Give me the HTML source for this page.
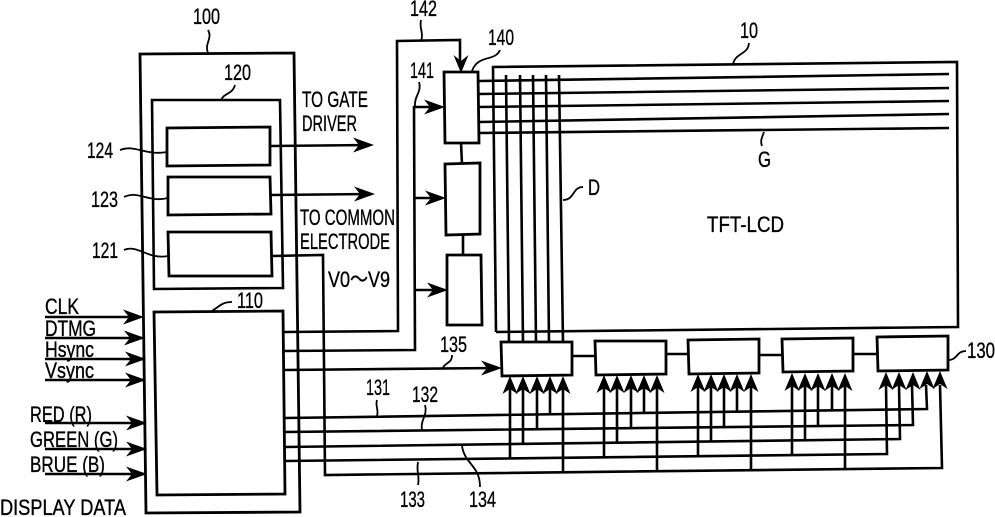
<!DOCTYPE html>
<html><head><meta charset="utf-8"><style>
html,body{margin:0;padding:0;background:#fff}
svg{display:block}
text{font-family:"Liberation Sans","Noto Sans CJK JP",sans-serif;font-size:22px;fill:#000;stroke:#000;stroke-width:.35}
.l{fill:none;stroke:#000;stroke-width:2.6;stroke-linejoin:miter}
.t{fill:none;stroke:#000;stroke-width:1.8}
.b{fill:#fff;stroke:#000;stroke-width:2.8}
</style></head><body>
<svg width="995" height="517" viewBox="0 0 995 517" xmlns="http://www.w3.org/2000/svg">
<defs>
<polygon id="r" points="1,0 -20,-7.5 -14,0 -20,7.5" fill="#000"/>
<polygon id="u" points="0,-1 -7.5,17 0,12 7.5,17" fill="#000"/>
<polygon id="d" points="0,1 -7.5,-17 0,-11 7.5,-17" fill="#000"/>
</defs>
<g class="l">
<polygon class="l" points="140,54 294,53 300,512 146,513" style="stroke-width:2.8"/>
<polygon class="l" points="152,100 280,100 283,288 154,289"/>
<polygon class="b" points="167,128 270,127 270,165 167,166"/>
<polygon class="b" points="168,177 270,177 271,214 168,215"/>
<polygon class="b" points="168,232 271,232 272,276 169,276"/>
<polygon class="b" points="154,312 283,311 285,494 157,495"/>
<polyline points="496,332 493,67 957,62 958,327 496,332"/>
<path d="M479,81 949,74M479,94 949,88M479,107 949,101M479,122 949,114M479,133 949,128"/>
<path d="M506,75 509,343M520,75 523,343M533,75 536,343M546,75 549,343M559,75 563,343"/>
<path d="M461,143 462,164M463,235 463,255M572,356H595M666,354H688M759,355H782M853,354H877"/>
<polygon class="b" points="444,72 478,72 479,143 445,143"/>
<polygon class="b" points="445,164 480,163 480,234 446,235"/>
<polygon class="b" points="447,255 481,255 482,325 447,325"/>
<polygon class="b" points="501,342 572,342 572,375 502,376"/>
<polygon class="b" points="595,341 666,341 666,374 596,375"/>
<polygon class="b" points="688,340 759,339 759,373 689,374"/>
<polygon class="b" points="782,339 853,338 853,371 783,372"/>
<polygon class="b" points="877,337 948,336 948,370 878,371"/>
<path d="M270,146 370,145M271,195 370,194"/>
<path d="M45,317H140M45,338H142M45,359H143M45,380H143M45,423H144M45,449H144M45,474H144"/>
<polyline points="272,256 323,255 325,475 942,468 940,385"/>
<polyline points="284,332 398,331 397,41 460,40 460,65"/>
<polyline points="284,351 415,350 414,107 440,107"/>
<path d="M415,198H440M416,290H442"/>
<path d="M284,370 496,368"/>
<polyline points="285,418 927,409 926,385"/>
<polyline points="285,432 913,425 912,385"/>
<polyline points="285,447 900,439 899,385"/>
<polyline points="285,461 887,454 886,385"/>
<path d="M510,385V458M523,385V443M537,385V429M550,385V413M563,385V473"/>
<path d="M604,385V457M617,385V442M631,385V428M644,385V412M657,385V472"/>
<path d="M698,385V456M711,385V441M724,385V427M737,385V411M751,385V471"/>
<path d="M792,385V455M805,385V440M818,385V426M832,385V410M845,385V469"/>
</g>
<g>
<use href="#r" x="373" y="145"/><use href="#r" x="374" y="194"/>
<use href="#r" x="143" y="317"/><use href="#r" x="144" y="338"/><use href="#r" x="145" y="359"/><use href="#r" x="145" y="380"/>
<use href="#r" x="146" y="423"/><use href="#r" x="146" y="449"/><use href="#r" x="146" y="474"/>
<use href="#r" x="444" y="107"/><use href="#r" x="445" y="198"/><use href="#r" x="447" y="290"/>
<use href="#r" x="501" y="368"/>
<use href="#d" x="461" y="72"/>
<use href="#u" x="510" y="377"/><use href="#u" x="523" y="377"/><use href="#u" x="537" y="377"/><use href="#u" x="550" y="377"/><use href="#u" x="563" y="377"/>
<use href="#u" x="604" y="376"/><use href="#u" x="617" y="376"/><use href="#u" x="631" y="376"/><use href="#u" x="644" y="376"/><use href="#u" x="657" y="376"/>
<use href="#u" x="698" y="375"/><use href="#u" x="711" y="375"/><use href="#u" x="724" y="375"/><use href="#u" x="737" y="375"/><use href="#u" x="751" y="375"/>
<use href="#u" x="792" y="374"/><use href="#u" x="805" y="374"/><use href="#u" x="818" y="374"/><use href="#u" x="832" y="374"/><use href="#u" x="845" y="374"/>
<use href="#u" x="886" y="373"/><use href="#u" x="899" y="373"/><use href="#u" x="913" y="373"/><use href="#u" x="927" y="372"/><use href="#u" x="940" y="372"/>
</g>
<g class="t">
<path d="M208,30C213,38 204,44 208,53"/>
<path d="M235,85C232,95 225,92 221,100"/>
<path d="M120,150C135,144 145,156 167,152"/>
<path d="M124,197C138,190 148,203 168,198"/>
<path d="M124,250C138,244 148,260 168,256"/>
<path d="M232,302C222,302 220,306 212,311"/>
<path d="M421,20C419,28 424,33 421,41"/>
<path d="M500,50C495,62 478,54 472,71"/>
<path d="M419,82C422,92 414,96 415,106"/>
<path d="M583,187C572,187 575,200 563,200"/>
<path d="M749,43C748,55 736,52 733,64"/>
<path d="M764,132C762,138 760,140 762,146"/>
<path d="M377,400C375,406 379,410 377,416"/>
<path d="M425,405C428,415 420,420 422,430"/>
<path d="M452,355C452,364 445,362 443,368"/>
<path d="M462,446C465,465 480,465 480,487"/>
<path d="M418,462C416,472 420,476 418,485"/>
<path d="M966,351C956,351 958,360 948,360"/>
</g>
<g>
<text x="193" y="24" textLength="27" lengthAdjust="spacingAndGlyphs">100</text>
<text x="224" y="80" textLength="27" lengthAdjust="spacingAndGlyphs">120</text>
<text x="87" y="158" textLength="26" lengthAdjust="spacingAndGlyphs">124</text>
<text x="91" y="207" textLength="27" lengthAdjust="spacingAndGlyphs">123</text>
<text x="92" y="258" textLength="26" lengthAdjust="spacingAndGlyphs">121</text>
<text x="237" y="308" textLength="26" lengthAdjust="spacingAndGlyphs">110</text>
<text x="302" y="107" textLength="66" lengthAdjust="spacingAndGlyphs">TO GATE</text>
<text x="302" y="131" textLength="55" lengthAdjust="spacingAndGlyphs">DRIVER</text>
<text x="300" y="225" textLength="95" lengthAdjust="spacingAndGlyphs">TO COMMON</text>
<text x="300" y="249" textLength="90" lengthAdjust="spacingAndGlyphs">ELECTRODE</text>
<text x="328" y="287" textLength="62" lengthAdjust="spacingAndGlyphs">V0～V9</text>
<text x="45" y="314" textLength="34" lengthAdjust="spacingAndGlyphs">CLK</text>
<text x="45" y="336" textLength="51" lengthAdjust="spacingAndGlyphs">DTMG</text>
<text x="45" y="357" textLength="49" lengthAdjust="spacingAndGlyphs">Hsync</text>
<text x="45" y="378" textLength="49" lengthAdjust="spacingAndGlyphs">Vsync</text>
<text x="30" y="422" textLength="62" lengthAdjust="spacingAndGlyphs">RED (R)</text>
<text x="30" y="447" textLength="88" lengthAdjust="spacingAndGlyphs">GREEN (G)</text>
<text x="30" y="472" textLength="75" lengthAdjust="spacingAndGlyphs">BRUE (B)</text>
<text x="0" y="515" textLength="126" lengthAdjust="spacingAndGlyphs">DISPLAY DATA</text>
<text x="410" y="16" textLength="27" lengthAdjust="spacingAndGlyphs">142</text>
<text x="488" y="45" textLength="26" lengthAdjust="spacingAndGlyphs">140</text>
<text x="410" y="78" textLength="24" lengthAdjust="spacingAndGlyphs">141</text>
<text x="588" y="195" textLength="12" lengthAdjust="spacingAndGlyphs">D</text>
<text x="740" y="38" textLength="18" lengthAdjust="spacingAndGlyphs">10</text>
<text x="758" y="167" textLength="13" lengthAdjust="spacingAndGlyphs">G</text>
<text x="707" y="232" textLength="77" lengthAdjust="spacingAndGlyphs">TFT-LCD</text>
<text x="366" y="395" textLength="24" lengthAdjust="spacingAndGlyphs">131</text>
<text x="412" y="402" textLength="26" lengthAdjust="spacingAndGlyphs">132</text>
<text x="440" y="352" textLength="27" lengthAdjust="spacingAndGlyphs">135</text>
<text x="400" y="507" textLength="25" lengthAdjust="spacingAndGlyphs">133</text>
<text x="469" y="507" textLength="27" lengthAdjust="spacingAndGlyphs">134</text>
<text x="967" y="358" textLength="28" lengthAdjust="spacingAndGlyphs">130</text>
</g>
</svg>
</body></html>
